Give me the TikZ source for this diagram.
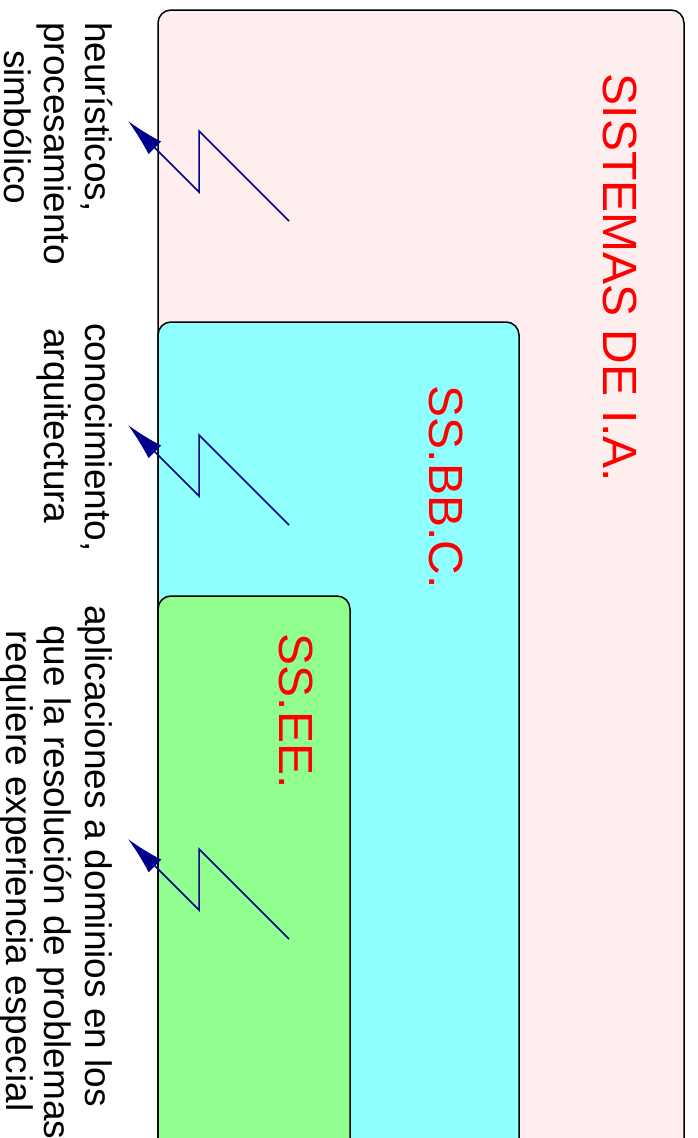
\documentclass[tikz,border=0pt]{standalone}
\usepackage{fontspec}
\setmainfont{Liberation Sans}
\usetikzlibrary{arrows.meta}

\definecolor{iapink}{RGB}{255,238,238}
\definecolor{sbccyan}{RGB}{143,255,255}
\definecolor{seegreen}{RGB}{144,255,144}
\definecolor{boltblue}{RGB}{0,0,140}

\tikzset{
  box/.style={draw=black, line width=1.5pt, rounded corners=13pt},
  title/.style={red, rotate=-90, font=\fontsize{48}{54}\selectfont},
  note/.style={rotate=-90, anchor=base west, inner sep=0pt, font=\fontsize{37}{42}\selectfont},
  bolt/.style={boltblue, line width=1.5pt, -{Latex[length=38pt, width=18pt]}}
}

\begin{document}
\begin{tikzpicture}[x=1pt, y=-1pt]
    \useasboundingbox (0,0) rectangle (697,1138);

    % Nested sets of systems
    \draw[box, fill=iapink] (158,10) rectangle (684,1152);
    \draw[box, fill=sbccyan] (158,322) rectangle (519,1152);
    \draw[box, fill=seegreen] (158,596) rectangle (350,1152);

    % Set names
    \node[title] (ia) at (620,278) {SISTEMAS DE I.A.};
    \node[title] (sbc) at (446,487) {SS.BB.C.};
    \node[title] (see) at (296,711) {SS.EE.};

    % Features of each set, one line at a time
    \node[note] (heur1) at (85,22) {heurísticos,};
    \node[note] (heur2) at (44,22) {procesamiento};
    \node[note] (heur3) at (5,50) {simbólico};

    \node[note] (conoc1) at (85,323) {conocimiento,};
    \node[note] (conoc2) at (44,328) {arquitectura};

    \node[note] (aplic1) at (85,605) {aplicaciones a dominios en los};
    \node[note] (aplic2) at (44,625) {que la resolución de problemas};
    \node[note] (aplic3) at (6,630) {requiere experiencia especial};

    % Lightning arrows from each set to its features
    \foreach \name/\dy in {ia/0, sbc/304, see/718} {
        \coordinate (\name-from) at (289,221+\dy);
        \coordinate (\name-to) at (128,121+\dy);
        \draw[bolt] (\name-from) -- (199,131+\dy) -- (199,192+\dy) -- (\name-to);
    }
\end{tikzpicture}
\end{document}
